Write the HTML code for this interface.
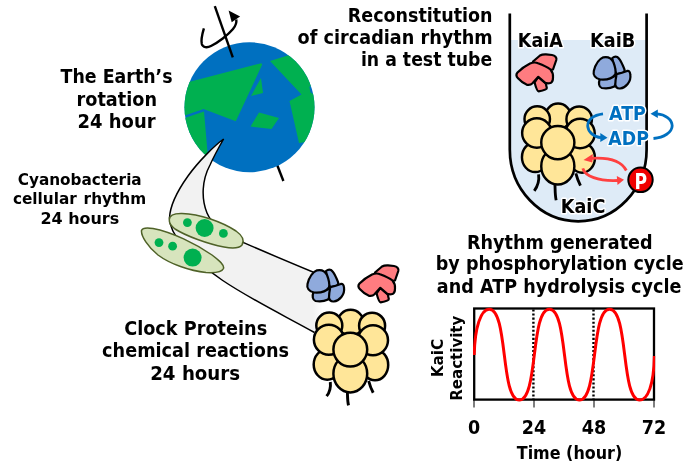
<!DOCTYPE html>
<html lang="en"><head><meta charset="utf-8"><title>Circadian rhythm reconstitution</title>
<style>
html,body{margin:0;padding:0;background:#fff;}
body{width:700px;height:475px;overflow:hidden;}
svg{display:block;will-change:transform;}
</style></head><body>
<svg width="700" height="475" viewBox="0 0 700 475" font-family="'DejaVu Sans','Liberation Sans',sans-serif" font-weight="bold" fill="#000">
<rect width="700" height="475" fill="#fff"/>
<defs>
  <clipPath id="earthclip"><circle cx="249.5" cy="107.3" r="65"/></clipPath>
  <linearGradient id="bandfade" gradientUnits="userSpaceOnUse" x1="313" y1="0" x2="323" y2="0">
    <stop offset="0" stop-color="#F2F2F2"/><stop offset="1" stop-color="#ffffff"/>
  </linearGradient>
</defs>

<line x1="276" y1="162" x2="283.4" y2="181" stroke="#000" stroke-width="2.4"/>
<circle cx="249.5" cy="107.3" r="65" fill="#0070C0"/>
<g clip-path="url(#earthclip)" fill="#00B050">
  <polygon points="180,84.3 261.2,63.2 262.2,64.6 235.8,121.2 203.5,109 180,117"/>
  <polygon points="180,119.5 204,111.5 207.5,152 200,175 180,175"/>
  <polygon points="261,78 263,93 251,96"/>
  <polygon points="259,112.5 279,118 271.5,129 250.5,126.5"/>
  <polygon points="270,61 300,51.7 320,45 320,82 309.3,86.8 310.5,92.5 320,98 320,140 299,143 289.5,101 301.5,94.5"/>
</g>
<line x1="214.8" y1="6.2" x2="232.8" y2="57.4" stroke="#000" stroke-width="2.4"/>
<path d="M203.9 28.3 C202.5 33 200.8 40 201.8 44 C202.8 47.5 207 48 211 46 C218 42.5 228 35 233 29 C235.5 26 236.8 23 236.3 19.5" fill="none" stroke="#000" stroke-width="2.4" stroke-linecap="butt"/>
<polygon points="228.6,10.5 240.1,16.4 231.7,22.2" fill="#000"/>
<path d="M223.6 139 C214 146 198 162 188 176 C178 190 170 205 169.5 218 C169.5 228 175 236.5 183 246 C192 257 205 268 222 280 C250 299 285 316 320 335 L322 335 L322 276 L310 271 C290 262.5 265 252 243 242.4 C225 234 212 225 207 213 C201 198 202 180 210 165 C214 156 219 147 223.6 139 Z" fill="url(#bandfade)" stroke="none"/>
<path d="M314.5 332.5 C285 316 250 299 222 280 C205 268 192 257 183 246 C175 236.5 169.5 228 169.5 218 C170 205 178 190 188 176 C198 162 214 146 223.6 139 C219 147 214 156 210 165 C202 180 201 198 207 213 C212 225 225 234 243 242.4 C265 252 290 262.5 313.5 272.3" fill="none" stroke="#000" stroke-width="1.5" stroke-linejoin="miter"/>
<g fill="#D7E4BD" stroke="#4F6228" stroke-width="1.5">
  <path d="M169.3 219.5 C169.5 215 174 213.3 182 213.5 C200 214 222 222 236 231 C243 236 244.5 241 242 245 C239 248.5 232 248.5 224 247 C208 244 186 236 175 229 C171 226 169 223 169.3 219.5 Z"/>
  <path d="M141.5 230.5 C142.5 227.5 147 227.5 153 228.5 C172 232 196 244 212 255 C220 261 224.5 265 223.5 268.5 C222 272 214 273 206 272.5 C190 271 170 264 158 255 C148 247 141 236 141.5 230.5 Z"/>
</g>
<g fill="#00B050">
  <circle cx="187.4" cy="222.6" r="4.4"/><circle cx="204.6" cy="228" r="9"/><circle cx="223.4" cy="233.4" r="4.4"/>
  <circle cx="159" cy="242.6" r="4.4"/><circle cx="172.6" cy="246.2" r="4.4"/><circle cx="192.6" cy="257.6" r="9"/>
</g>

<g transform="translate(0 0)" fill="#8FAADC" stroke="#000" stroke-width="2.2" stroke-linejoin="round">
  <path d="M326 271 C327.5 269.8 329.5 269.4 331 270 C333.5 271.5 335 275 336.3 278 C337.3 280.3 338.3 282.3 338.3 283.3 C338.3 285 337.3 285.8 335.5 286.2 L330 287 C328 283 327 278 326 271 Z"/>
  <path d="M313.5 292 C312 296 312.5 300 315.5 301 C320 301.8 325 301 328 299.5 C330 297 330.5 293 330 289 Z"/>
  <path d="M330.3 287.2 C334 286.3 338 285 340.8 283.9 C342.8 283.5 343.8 285 344 287.5 C344.5 291 343.5 294.5 341.4 297 C339.3 299.5 336.5 301.2 333.8 301.5 C331 301.7 329.3 300.3 329 297.4 C329 294 329.6 290.5 330.3 287.2 Z"/>
  <path d="M317 270.3 C321 269.5 325 271 327 275 C329 280 329.8 284 329 287.5 C326 291.5 320 293 314 292.5 C309 291.5 306.5 288 307.5 284 C309 278 312 272.5 317 270.3 Z"/>
</g>

<g transform="translate(0 0)" fill="#FF7C80" stroke="#000" stroke-width="2.2" stroke-linejoin="round">
  <path d="M375 272.5 L382 266.5 C384 265.3 386 265.2 388 265.3 L394 266 C397 266.5 399 268.5 398.3 271 L395 280.5 L386 282 Z"/>
  <path d="M380.3 288 L387.8 294.5 L388.8 299 C388.8 300.5 386 301.5 380.6 302.3 C379.2 302.3 378.3 300 376.6 293.5 Z"/>
  <path d="M359.5 283.5 C363 280 368 276.5 372 274.5 C375 273.3 378 273.3 380 274.2 C385 276 390 278.5 392.5 280.5 C394.5 283 395.3 286 395 288.5 C395 291 394.5 293 393 293.7 C391 294.5 389 294.5 387.3 293.8 L380.3 287.8 L374.5 294.3 C373 295.8 370.5 296.2 368.5 295.6 C365 294 362 291.5 360 289.3 C358.3 287.5 358.2 285 359.5 283.5 Z"/>
</g>

<g transform="translate(0 0) scale(1.0)" fill="#FFE699" stroke="#000" stroke-width="2.5" stroke-linecap="butt">
  <path d="M330.3 382 C331 388 330 392 326.6 396.2" fill="none" stroke-width="2.9"/>
  <path d="M347.4 392 C347.6 397 347.4 401 348.5 405.3" fill="none" stroke-width="2.9"/>
  <path d="M368.7 381 C369.7 385 371.2 389 373.2 392.8" fill="none" stroke-width="2.9"/>
  <circle cx="350.6" cy="322.8" r="13"/>
  <circle cx="329.3" cy="325.6" r="13"/>
  <circle cx="372.1" cy="325.7" r="13"/>
  <ellipse cx="327.3" cy="364.5" rx="13.6" ry="15.2"/>
  <ellipse cx="375" cy="365" rx="13.2" ry="15.3"/>
  <ellipse cx="350.3" cy="373.7" rx="16.9" ry="18.7"/>
  <circle cx="328.9" cy="339.8" r="15"/>
  <circle cx="373" cy="340.3" r="15"/>
  <circle cx="350.3" cy="349.6" r="16.9"/>
</g>
<path d="M509.8 40 H646.6 V149.5 A68.4 71.8 0 0 1 509.8 149.5 Z" fill="#DEEBF7"/>
<path d="M509.8 13.5 V149.5 A68.4 71.8 0 0 0 646.6 149.5 V13.5" fill="none" stroke="#000" stroke-width="2.7"/>

<g transform="translate(158 -211)" fill="#FF7C80" stroke="#000" stroke-width="2.2" stroke-linejoin="round">
  <path d="M375 272.5 L382 266.5 C384 265.3 386 265.2 388 265.3 L394 266 C397 266.5 399 268.5 398.3 271 L395 280.5 L386 282 Z"/>
  <path d="M380.3 288 L387.8 294.5 L388.8 299 C388.8 300.5 386 301.5 380.6 302.3 C379.2 302.3 378.3 300 376.6 293.5 Z"/>
  <path d="M359.5 283.5 C363 280 368 276.5 372 274.5 C375 273.3 378 273.3 380 274.2 C385 276 390 278.5 392.5 280.5 C394.5 283 395.3 286 395 288.5 C395 291 394.5 293 393 293.7 C391 294.5 389 294.5 387.3 293.8 L380.3 287.8 L374.5 294.3 C373 295.8 370.5 296.2 368.5 295.6 C365 294 362 291.5 360 289.3 C358.3 287.5 358.2 285 359.5 283.5 Z"/>
</g>

<g transform="translate(286.3 -213)" fill="#8FAADC" stroke="#000" stroke-width="2.2" stroke-linejoin="round">
  <path d="M326 271 C327.5 269.8 329.5 269.4 331 270 C333.5 271.5 335 275 336.3 278 C337.3 280.3 338.3 282.3 338.3 283.3 C338.3 285 337.3 285.8 335.5 286.2 L330 287 C328 283 327 278 326 271 Z"/>
  <path d="M313.5 292 C312 296 312.5 300 315.5 301 C320 301.8 325 301 328 299.5 C330 297 330.5 293 330 289 Z"/>
  <path d="M330.3 287.2 C334 286.3 338 285 340.8 283.9 C342.8 283.5 343.8 285 344 287.5 C344.5 291 343.5 294.5 341.4 297 C339.3 299.5 336.5 301.2 333.8 301.5 C331 301.7 329.3 300.3 329 297.4 C329 294 329.6 290.5 330.3 287.2 Z"/>
  <path d="M317 270.3 C321 269.5 325 271 327 275 C329 280 329.8 284 329 287.5 C326 291.5 320 293 314 292.5 C309 291.5 306.5 288 307.5 284 C309 278 312 272.5 317 270.3 Z"/>
</g>

<g transform="translate(214.52 -200.02) scale(0.98)" fill="#FFE699" stroke="#000" stroke-width="2.5" stroke-linecap="butt">
  <path d="M330.7 382 C331.5 388 330.5 393 326.3 398.8" fill="none" stroke-width="2.9"/>
  <path d="M347.4 392 C347.6 398 347.4 403 348.6 408.5" fill="none" stroke-width="2.9"/>
  <path d="M368.7 381 C369.7 385 371.2 389 373.4 393.5" fill="none" stroke-width="2.9"/>
  <circle cx="350.6" cy="322.8" r="13"/>
  <circle cx="329.3" cy="325.6" r="13"/>
  <circle cx="372.1" cy="325.7" r="13"/>
  <ellipse cx="327.3" cy="364.5" rx="13.6" ry="15.2"/>
  <ellipse cx="375" cy="365" rx="13.2" ry="15.3"/>
  <ellipse cx="350.3" cy="373.7" rx="16.9" ry="18.7"/>
  <circle cx="328.9" cy="339.8" r="15"/>
  <circle cx="373" cy="340.3" r="15"/>
  <circle cx="350.3" cy="349.6" r="16.9"/>
</g>
<text x="540.3" y="47.4" font-size="18.8" text-anchor="middle" textLength="45" lengthAdjust="spacingAndGlyphs" stroke="#fff" stroke-width="3" stroke-linejoin="round" paint-order="stroke">KaiA</text>
<text x="612.6" y="47.4" font-size="18.8" text-anchor="middle" textLength="45.2" lengthAdjust="spacingAndGlyphs" stroke="#fff" stroke-width="3" stroke-linejoin="round" paint-order="stroke">KaiB</text>
<text x="583.1" y="212.9" font-size="19.2" text-anchor="middle" textLength="44.5" lengthAdjust="spacingAndGlyphs" stroke="#fff" stroke-width="3" stroke-linejoin="round" paint-order="stroke">KaiC</text>
<g fill="none" stroke="#0070C0" stroke-width="2.8">
  <path d="M603 113.8 C593 115 587.5 120 587.7 126 C588 132 594 137 601 137.6"/>
  <path d="M653.5 138.5 C664 137.5 672 132.5 672.2 125.8 C672 119 665 114.5 657 113.8"/>
</g>
<polygon points="607.5,137.8 600.3,133 600.3,142" fill="#0070C0"/>
<polygon points="650.5,113.8 657.8,109.5 657.8,118" fill="#0070C0"/>
<text x="627.5" y="120.3" font-size="18.6" text-anchor="middle" textLength="36.8" lengthAdjust="spacingAndGlyphs" fill="#0070C0" stroke="#fff" stroke-width="3" stroke-linejoin="round" paint-order="stroke">ATP</text>
<text x="628.6" y="145.0" font-size="18.6" text-anchor="middle" textLength="40.5" lengthAdjust="spacingAndGlyphs" fill="#0070C0" stroke="#fff" stroke-width="3" stroke-linejoin="round" paint-order="stroke">ADP</text>
<g fill="none" stroke="#FF4040" stroke-width="2.8">
  <path d="M626.3 170.5 C622 162 612 157 591.5 158.3"/>
  <path d="M582.8 168.3 C585 176 598 181.5 618 180.5"/>
</g>
<polygon points="583.5,160 592.8,154 592.3,162.5" fill="#FF4040"/>
<polygon points="624,179.7 616.8,176 617.5,185" fill="#FF4040"/>
<circle cx="640.5" cy="179.8" r="12.2" fill="#F00000" stroke="#000" stroke-width="2"/>
<text transform="translate(640.9 188.6) scale(0.8 1)" font-size="21.5" text-anchor="middle" fill="#fff">P</text>
<text x="492.6" y="21.9" font-size="19.2" text-anchor="end" textLength="144.8" lengthAdjust="spacingAndGlyphs">Reconstitution</text>
<text x="492.6" y="44.4" font-size="19.2" text-anchor="end" textLength="195" lengthAdjust="spacingAndGlyphs">of circadian rhythm</text>
<text x="492.2" y="66.3" font-size="19.2" text-anchor="end" textLength="131.3" lengthAdjust="spacingAndGlyphs">in a test tube</text>
<text x="116.6" y="82.5" font-size="19.2" text-anchor="middle" textLength="112" lengthAdjust="spacingAndGlyphs">The Earth’s</text>
<text x="116.8" y="105.5" font-size="19.2" text-anchor="middle" textLength="80.5" lengthAdjust="spacingAndGlyphs">rotation</text>
<text x="116.6" y="127.5" font-size="19.2" text-anchor="middle" textLength="78" lengthAdjust="spacingAndGlyphs">24 hour</text>
<text x="79.7" y="184.5" font-size="16.2" text-anchor="middle" textLength="124" lengthAdjust="spacingAndGlyphs">Cyanobacteria</text>
<text x="79.5" y="204.4" font-size="16.2" text-anchor="middle" textLength="133.2" lengthAdjust="spacingAndGlyphs" word-spacing="1.6">cellular rhythm</text>
<text x="79.8" y="224.0" font-size="16.2" text-anchor="middle" textLength="78.8" lengthAdjust="spacingAndGlyphs">24 hours</text>
<text x="195.7" y="334.5" font-size="19.2" text-anchor="middle" textLength="143" lengthAdjust="spacingAndGlyphs">Clock Proteins</text>
<text x="195.6" y="357.0" font-size="19.2" text-anchor="middle" textLength="187" lengthAdjust="spacingAndGlyphs">chemical reactions</text>
<text x="195.2" y="379.5" font-size="19.2" text-anchor="middle" textLength="90" lengthAdjust="spacingAndGlyphs">24 hours</text>
<text x="559.8" y="248.9" font-size="19.2" text-anchor="middle" textLength="185.6" lengthAdjust="spacingAndGlyphs">Rhythm generated</text>
<text x="559.7" y="270.3" font-size="19.2" text-anchor="middle" textLength="247.8" lengthAdjust="spacingAndGlyphs">by phosphorylation cycle</text>
<text x="559.1" y="293.0" font-size="19.2" text-anchor="middle" textLength="244.6" lengthAdjust="spacingAndGlyphs">and ATP hydrolysis cycle</text>
<g stroke="#000" stroke-width="1">
  <line x1="474" y1="399" x2="474" y2="407.5"/><line x1="534" y1="399" x2="534" y2="407.5"/>
  <line x1="594" y1="399" x2="594" y2="407.5"/><line x1="654" y1="399" x2="654" y2="407.5"/>
</g>
<rect x="474.2" y="308.5" width="179.8" height="91.1" fill="none" stroke="#000" stroke-width="2.3"/>
<g stroke="#000" stroke-width="2.4" stroke-dasharray="2.05 2" fill="none">
  <line x1="533.4" y1="309.5" x2="533.4" y2="399"/>
  <line x1="593.5" y1="309.5" x2="593.5" y2="399"/>
</g>
<clipPath id="chartclip"><rect x="473" y="305" width="182.2" height="98"/></clipPath>
<path d="M474.2 355 C474.8 327 481 309.2 489.2 309.2 C508.2 309.2 500.29999999999995 400.0 519.3 400.0 C538.3 400.0 530.4 309.2 549.4 309.2 C568.4 309.2 560.5 400.0 579.5 400.0 C598.5 400.0 590.6 309.2 609.6 309.2 C628.6 309.2 620.7 400.0 639.7 400.0 C647.7 400.0 653.8 385 654.4 356" fill="none" stroke="#FF0000" stroke-width="3" clip-path="url(#chartclip)"/>
<text x="474" y="433.5" font-size="19.2" text-anchor="middle" textLength="12.2" lengthAdjust="spacingAndGlyphs">0</text>
<text x="534" y="433.5" font-size="19.2" text-anchor="middle" textLength="24.4" lengthAdjust="spacingAndGlyphs">24</text>
<text x="594" y="433.5" font-size="19.2" text-anchor="middle" textLength="24.4" lengthAdjust="spacingAndGlyphs">48</text>
<text x="654" y="433.5" font-size="19.2" text-anchor="middle" textLength="24.4" lengthAdjust="spacingAndGlyphs">72</text>
<text x="569.5" y="459.3" font-size="17" text-anchor="middle" textLength="105.5" lengthAdjust="spacingAndGlyphs">Time (hour)</text>
<text transform="translate(442.8 358) rotate(-90)" font-size="16" text-anchor="middle" textLength="38.5" lengthAdjust="spacingAndGlyphs">KaiC</text>
<text transform="translate(462.2 358.2) rotate(-90)" font-size="16" text-anchor="middle" textLength="85" lengthAdjust="spacingAndGlyphs">Reactivity</text>
</svg>
</body></html>
